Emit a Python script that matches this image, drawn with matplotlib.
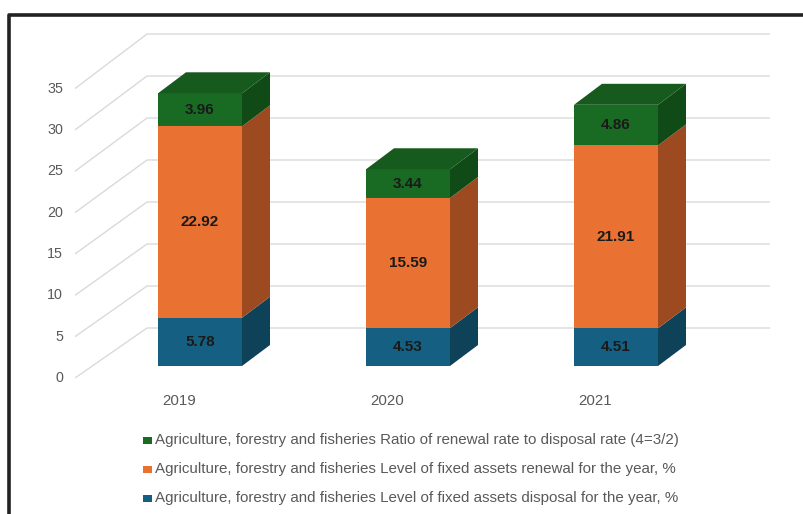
import matplotlib
matplotlib.use("Agg")
import matplotlib.pyplot as plt
from matplotlib.patches import Rectangle, Polygon
from matplotlib.lines import Line2D
import numpy as np

plt.rcParams['font.family'] = ['Liberation Sans', 'DejaVu Sans']

years = ['2019', '2020', '2021']
disposal = [5.78, 4.53, 4.51]
renewal = [22.92, 15.59, 21.91]
ratio = [3.96, 3.44, 4.86]
series_names = [
    'Agriculture, forestry and fisheries Ratio of renewal rate to disposal rate (4=3/2)',
    'Agriculture, forestry and fisheries Level of fixed assets renewal for the year, %',
    'Agriculture, forestry and fisheries Level of fixed assets disposal for the year, %',
]
yticks = [0, 5, 10, 15, 20, 25, 30, 35]

front_cols = ['#156082', '#E97132', '#196B24']
side_cols = ['#0D4258', '#9E4A20', '#104A17']
top_cols = ['#115270', '#C45E27', '#165A1D']

W, H = 804, 514
fig = plt.figure(figsize=(W / 100, H / 100), dpi=100)
ax = fig.add_axes([0, 0, 1, 1])
XS, YS = 208.0, 8.35   # px per category / per value unit
X0, Y0 = 200.0, 366.0  # pixel of category 0 / value 0 on bar front
ax.set_xlim(-X0 / XS, (W - X0) / XS)
ax.set_ylim(-(H - Y0) / YS, Y0 / YS)
ax.axis('off')

def px_x(px):
    return (px - X0) / XS

def front_y(v):
    return (Y0 - (378 - 8.27 * v)) / YS

def back_y(v):
    return (Y0 - (328 - 8.40 * v)) / YS

grid_c = '#dadada'
for v in yticks:
    ax.plot([px_x(75), px_x(147), px_x(770)], [front_y(v), back_y(v), back_y(v)],
            color=grid_c, lw=1.0, zorder=1, solid_capstyle='butt')
    ax.text(px_x(63), front_y(v), str(v), ha='right', va='center',
            fontsize=10.3, color='#595959')

bw = 84 / XS
DX = 28 / XS
DY = 21 / YS
series = [disposal, renewal, ratio]
for i in range(len(years)):
    bottom = 0.0
    for s, vals in enumerate(series):
        h = vals[i]
        top = bottom + h
        xl, xr = i - bw / 2, i + bw / 2
        ax.add_patch(Rectangle((xl, bottom), bw, h, facecolor=front_cols[s],
                               edgecolor='none', zorder=3))
        ax.add_patch(Polygon([(xr, bottom), (xr + DX, bottom + DY), (xr + DX, top + DY), (xr, top)],
                             closed=True, facecolor=side_cols[s], edgecolor='none', zorder=3))
        if s == len(series) - 1:
            ax.add_patch(Polygon([(xl, top), (xl + DX, top + DY), (xr + DX, top + DY), (xr, top)],
                                 closed=True, facecolor=top_cols[s], edgecolor='none', zorder=3))
        ax.text(i, bottom + h / 2, f'{h:.2f}', ha='center', va='center',
                fontsize=11, fontweight='bold', color='#1a1a1a', zorder=4)
        bottom = top
    ax.text(i - 0.1, (Y0 - 401) / YS, years[i], ha='center', va='center',
            fontsize=10.8, color='#595959')

# legend (manual)
leg_rows = [440, 469, 498]
leg_cols = [front_cols[2], front_cols[1], front_cols[0]]
for py, name, c in zip(leg_rows, series_names, leg_cols):
    fig.patches.append(Rectangle((143 / W, 1 - (py + 3.5) / H), 9 / W, 7 / H,
                                 transform=fig.transFigure, facecolor=c, edgecolor='none'))
    fig.text(155 / W, 1 - py / H, name, ha='left', va='center', fontsize=10.9, color='#595959')

# outer frame (partially visible)
fig.lines.append(Line2D([9 / W, 9 / W, 1.0], [0.0, 1 - 14.7 / H, 1 - 14.7 / H],
                        transform=fig.transFigure, color='#222222', lw=2.6))

fig.savefig('out.png', dpi=100, facecolor='white')
